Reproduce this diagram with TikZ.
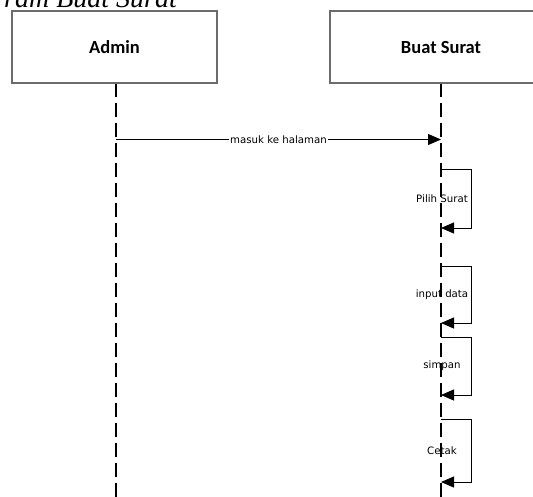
\documentclass[tikz,border=0pt]{standalone}
\usepackage{fontspec}
\setmainfont{Liberation Serif}
\newfontfamily\boxfont{Carlito}
\newfontfamily\msgfont{DejaVu Sans}
\usetikzlibrary{arrows.meta}
\begin{document}
\begin{tikzpicture}[x=1pt,y=-1pt,
  actorbox/.style={draw=black!58,line width=1.8pt,fill=white,minimum height=72pt,inner sep=0pt,font=\boxfont\bfseries\fontsize{18.5}{20}\selectfont},
  lifeline/.style={line width=1.6pt,dash pattern=on 14pt off 6pt},
  msg/.style={line width=1pt,-{Triangle[length=13pt,width=11pt]}},
  msglabel/.style={font=\msgfont\fontsize{10.2}{12}\selectfont,inner sep=1pt},
  titletext/.style={font=\itshape\fontsize{28}{30}\selectfont,inner sep=0pt,anchor=base west}]
\useasboundingbox (0,0) rectangle (533,496);
\clip (0,0) rectangle (533,496);
% title (cut off at top)
\node[titletext] (title) at (4,7.5) {ram Buat Surat};
% lifelines
\coordinate (aBot) at (116,500);
\coordinate (bBot) at (441,500);
\draw[lifeline] (116,83) -- (aBot);
\draw[lifeline] (441,83) -- (bBot);
% actor boxes
\node[actorbox,minimum width=205pt] (admin) at (114.5,47) {Admin};
\node[actorbox,minimum width=222pt] (buat) at (441,47) {Buat Surat};
% message
\coordinate (m1a) at (116,139.5);
\coordinate (m1b) at (441,139.5);
\draw[msg] (m1a) -- node[msglabel,fill=white] (m1lab) {masuk ke halaman} (m1b);
% self messages
\foreach \n/\top/\bot/\lab in {s1/169/228/{Pilih Surat}, s2/266/323/{input data}, s3/337/395/{simpan}, s4/419/482/{Cetak}}{
  \coordinate (\n t) at (441,\top);
  \coordinate (\n tr) at (471,\top);
  \coordinate (\n br) at (471,\bot);
  \coordinate (\n b) at (441,\bot);
  \draw[msg] (\n t) -- (\n tr) -- (\n br) -- (\n b);
  \node[msglabel] (\n lab) at (442,{(\top+\bot)/2}) {\lab};
}
\end{tikzpicture}
\end{document}
